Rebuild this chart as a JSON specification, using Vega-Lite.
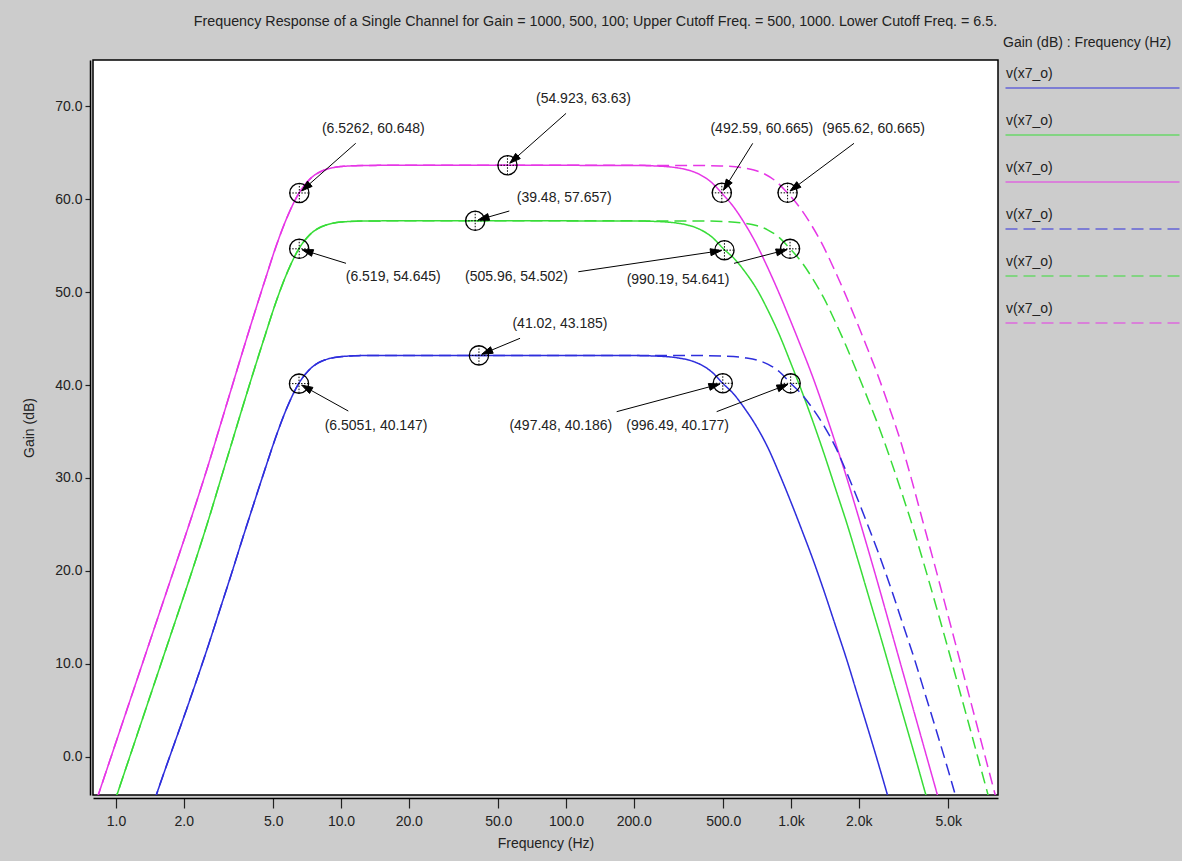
{
  "$schema": "https://vega.github.io/schema/vega-lite/v6.json",
  "width": 905,
  "height": 735,
  "autosize": {"type": "none"},
  "padding": {"left": 93, "top": 60, "right": 184, "bottom": 66},
  "background": "#cccccc",
  "title": {"text": "Frequency Response of a Single Channel for Gain = 1000, 500, 100; Upper Cutoff Freq. = 500, 1000. Lower Cutoff Freq. = 6.5.", "fontSize": 14.3, "fontWeight": "normal", "color": "#222", "anchor": "middle", "frame": "group", "dx": 50, "offset": 7},
  "config": {
    "font": "Liberation Sans",
    "view": {"fill": "white", "stroke": "black", "strokeWidth": 1.5},
    "axis": {"grid": false},
    "text": {"fontSize": 14, "fill": "#222", "font": "Liberation Sans"}
  },
  "datasets": {
    "curves": [
      {"s":"s1","f":1.156,"g":-12.2},{"s":"s1","f":1.2969,"g":-8.72},{"s":"s1","f":1.4551,"g":-5.22},{"s":"s1","f":1.6327,"g":-1.72},{"s":"s1","f":1.832,"g":1.69},{"s":"s1","f":2.0555,"g":5.09},{"s":"s1","f":2.3066,"g":8.59},{"s":"s1","f":2.5876,"g":12.19},{"s":"s1","f":2.9031,"g":15.94},{"s":"s1","f":3.2578,"g":19.69},{"s":"s1","f":3.6558,"g":23.54},{"s":"s1","f":4.101,"g":27.29},{"s":"s1","f":4.6002,"g":30.99},{"s":"s1","f":5.163,"g":34.59},{"s":"s1","f":5.7931,"g":37.74},{"s":"s1","f":6.5,"g":40.19},{"s":"s1","f":7.293,"g":41.73},{"s":"s1","f":8.183,"g":42.55},{"s":"s1","f":10.3,"g":43.08},{"s":"s1","f":12.97,"g":43.17},{"s":"s1","f":20,"g":43.185},{"s":"s1","f":50,"g":43.185},{"s":"s1","f":100,"g":43.18},
      {"s":"s1","f":198.1,"g":43.165},{"s":"s1","f":249.4,"g":43.115},{"s":"s1","f":313.9,"g":42.915},{"s":"s1","f":352.2,"g":42.675},{"s":"s1","f":395.2,"g":42.215},{"s":"s1","f":443.4,"g":41.425},{"s":"s1","f":497.5,"g":40.185},{"s":"s1","f":558.2,"g":38.985},{"s":"s1","f":626.3,"g":37.385},{"s":"s1","f":702.7,"g":35.535},{"s":"s1","f":788.5,"g":33.285},{"s":"s1","f":884.7,"g":30.535},{"s":"s1","f":992.7,"g":27.585},{"s":"s1","f":1113.8,"g":24.485},{"s":"s1","f":1249.7,"g":21.285},{"s":"s1","f":1402.1,"g":17.835},{"s":"s1","f":1573.2,"g":14.185},{"s":"s1","f":1765.2,"g":10.535},{"s":"s1","f":1980.6,"g":6.585},{"s":"s1","f":2222.2,"g":2.635},{"s":"s1","f":2493.4,"g":-1.415},{"s":"s1","f":2797.6,"g":-5.615},{"s":"s1","f":3139,"g":-9.915},

      {"s":"s2","f":0.8183,"g":-10.64},{"s":"s2","f":0.9182,"g":-7.04},{"s":"s2","f":1.0301,"g":-3.44},{"s":"s2","f":1.156,"g":0.16},{"s":"s2","f":1.2969,"g":3.76},{"s":"s2","f":1.4551,"g":7.36},{"s":"s2","f":1.6327,"g":10.96},{"s":"s2","f":1.832,"g":14.56},{"s":"s2","f":2.0555,"g":18.16},{"s":"s2","f":2.3066,"g":21.86},{"s":"s2","f":2.5876,"g":25.66},{"s":"s2","f":2.9031,"g":29.66},{"s":"s2","f":3.2578,"g":33.66},{"s":"s2","f":3.6558,"g":37.66},{"s":"s2","f":4.101,"g":41.56},{"s":"s2","f":4.6002,"g":45.36},{"s":"s2","f":5.163,"g":49.06},{"s":"s2","f":5.7931,"g":52.21},{"s":"s2","f":6.5,"g":54.66},{"s":"s2","f":7.293,"g":56.2},{"s":"s2","f":8.183,"g":57.02},{"s":"s2","f":10.3,"g":57.55},{"s":"s2","f":12.97,"g":57.64},{"s":"s2","f":20,"g":57.657},{"s":"s2","f":50,"g":57.657},{"s":"s2","f":100,"g":57.65},
      {"s":"s2","f":199.1,"g":57.64},{"s":"s2","f":250.6,"g":57.59},{"s":"s2","f":315.5,"g":57.39},{"s":"s2","f":354,"g":57.15},{"s":"s2","f":397.2,"g":56.69},{"s":"s2","f":445.7,"g":55.9},{"s":"s2","f":500,"g":54.66},{"s":"s2","f":561,"g":53.56},{"s":"s2","f":629.5,"g":52.06},{"s":"s2","f":706.3,"g":50.26},{"s":"s2","f":792.5,"g":47.96},{"s":"s2","f":889.2,"g":45.36},{"s":"s2","f":997.7,"g":42.36},{"s":"s2","f":1119.4,"g":39.26},{"s":"s2","f":1256,"g":35.96},{"s":"s2","f":1409.2,"g":32.46},{"s":"s2","f":1581.1,"g":28.76},{"s":"s2","f":1774.1,"g":25.06},{"s":"s2","f":1990.5,"g":21.06},{"s":"s2","f":2233.4,"g":16.96},{"s":"s2","f":2506,"g":12.86},{"s":"s2","f":2811.7,"g":8.66},{"s":"s2","f":3154.8,"g":4.46},{"s":"s2","f":3539.8,"g":0.26},{"s":"s2","f":3971.6,"g":-4.04},{"s":"s2","f":4456.3,"g":-8.24},

      {"s":"s3","f":0.7293,"g":-8.27},{"s":"s3","f":0.8183,"g":-4.67},{"s":"s3","f":0.9182,"g":-1.07},{"s":"s3","f":1.0301,"g":2.53},{"s":"s3","f":1.156,"g":6.13},{"s":"s3","f":1.2969,"g":9.73},{"s":"s3","f":1.4551,"g":13.33},{"s":"s3","f":1.6327,"g":16.93},{"s":"s3","f":1.832,"g":20.53},{"s":"s3","f":2.0555,"g":24.13},{"s":"s3","f":2.3066,"g":27.83},{"s":"s3","f":2.5876,"g":31.63},{"s":"s3","f":2.9031,"g":35.63},{"s":"s3","f":3.2578,"g":39.63},{"s":"s3","f":3.6558,"g":43.63},{"s":"s3","f":4.101,"g":47.53},{"s":"s3","f":4.6002,"g":51.33},{"s":"s3","f":5.163,"g":55.03},{"s":"s3","f":5.7931,"g":58.18},{"s":"s3","f":6.5,"g":60.63},{"s":"s3","f":7.293,"g":62.17},{"s":"s3","f":8.183,"g":62.99},{"s":"s3","f":10.3,"g":63.52},{"s":"s3","f":12.97,"g":63.61},{"s":"s3","f":20,"g":63.63},{"s":"s3","f":50,"g":63.63},{"s":"s3","f":100,"g":63.62},
      {"s":"s3","f":196.1,"g":63.61},{"s":"s3","f":246.9,"g":63.56},{"s":"s3","f":310.8,"g":63.36},{"s":"s3","f":348.7,"g":63.12},{"s":"s3","f":391.3,"g":62.66},{"s":"s3","f":439.1,"g":61.87},{"s":"s3","f":492.6,"g":60.63},{"s":"s3","f":552.7,"g":59.23},{"s":"s3","f":620.1,"g":57.43},{"s":"s3","f":695.8,"g":55.33},{"s":"s3","f":780.7,"g":52.83},{"s":"s3","f":876,"g":50.13},{"s":"s3","f":982.9,"g":47.23},{"s":"s3","f":1102.8,"g":44.23},{"s":"s3","f":1237.4,"g":41.13},{"s":"s3","f":1388.4,"g":37.73},{"s":"s3","f":1557.8,"g":34.13},{"s":"s3","f":1747.8,"g":30.43},{"s":"s3","f":1961.1,"g":26.43},{"s":"s3","f":2200.3,"g":22.33},{"s":"s3","f":2468.9,"g":18.13},{"s":"s3","f":2770.1,"g":13.83},{"s":"s3","f":3108.1,"g":9.53},{"s":"s3","f":3487.4,"g":5.23},{"s":"s3","f":3912.9,"g":0.93},{"s":"s3","f":4390.3,"g":-3.37},{"s":"s3","f":4926,"g":-7.67},

      {"s":"s4","f":1.156,"g":-12.2},{"s":"s4","f":1.2969,"g":-8.72},{"s":"s4","f":1.4551,"g":-5.22},{"s":"s4","f":1.6327,"g":-1.72},{"s":"s4","f":1.832,"g":1.69},{"s":"s4","f":2.0555,"g":5.09},{"s":"s4","f":2.3066,"g":8.59},{"s":"s4","f":2.5876,"g":12.19},{"s":"s4","f":2.9031,"g":15.94},{"s":"s4","f":3.2578,"g":19.69},{"s":"s4","f":3.6558,"g":23.54},{"s":"s4","f":4.101,"g":27.29},{"s":"s4","f":4.6002,"g":30.99},{"s":"s4","f":5.163,"g":34.59},{"s":"s4","f":5.7931,"g":37.74},{"s":"s4","f":6.5,"g":40.19},{"s":"s4","f":7.293,"g":41.73},{"s":"s4","f":8.183,"g":42.55},{"s":"s4","f":10.3,"g":43.08},{"s":"s4","f":12.97,"g":43.17},{"s":"s4","f":20,"g":43.185},{"s":"s4","f":50,"g":43.185},{"s":"s4","f":100,"g":43.185},{"s":"s4","f":200,"g":43.18},
      {"s":"s4","f":396.7,"g":43.165},{"s":"s4","f":499.4,"g":43.115},{"s":"s4","f":628.8,"g":42.915},{"s":"s4","f":705.4,"g":42.675},{"s":"s4","f":791.5,"g":42.215},{"s":"s4","f":888.2,"g":41.425},{"s":"s4","f":996.5,"g":40.185},{"s":"s4","f":1118.1,"g":38.985},{"s":"s4","f":1254.5,"g":37.385},{"s":"s4","f":1407.6,"g":35.535},{"s":"s4","f":1579.4,"g":33.285},{"s":"s4","f":1772.1,"g":30.535},{"s":"s4","f":1988.3,"g":27.585},{"s":"s4","f":2230.9,"g":24.485},{"s":"s4","f":2503.1,"g":21.285},{"s":"s4","f":2808.5,"g":17.835},{"s":"s4","f":3151.2,"g":14.185},{"s":"s4","f":3535.7,"g":10.535},{"s":"s4","f":3967.1,"g":6.585},{"s":"s4","f":4451.1,"g":2.635},{"s":"s4","f":4994.3,"g":-1.415},{"s":"s4","f":5603.7,"g":-5.615},{"s":"s4","f":6287.4,"g":-9.915},

      {"s":"s5","f":0.8183,"g":-10.64},{"s":"s5","f":0.9182,"g":-7.04},{"s":"s5","f":1.0301,"g":-3.44},{"s":"s5","f":1.156,"g":0.16},{"s":"s5","f":1.2969,"g":3.76},{"s":"s5","f":1.4551,"g":7.36},{"s":"s5","f":1.6327,"g":10.96},{"s":"s5","f":1.832,"g":14.56},{"s":"s5","f":2.0555,"g":18.16},{"s":"s5","f":2.3066,"g":21.86},{"s":"s5","f":2.5876,"g":25.66},{"s":"s5","f":2.9031,"g":29.66},{"s":"s5","f":3.2578,"g":33.66},{"s":"s5","f":3.6558,"g":37.66},{"s":"s5","f":4.101,"g":41.56},{"s":"s5","f":4.6002,"g":45.36},{"s":"s5","f":5.163,"g":49.06},{"s":"s5","f":5.7931,"g":52.21},{"s":"s5","f":6.5,"g":54.66},{"s":"s5","f":7.293,"g":56.2},{"s":"s5","f":8.183,"g":57.02},{"s":"s5","f":10.3,"g":57.55},{"s":"s5","f":12.97,"g":57.64},{"s":"s5","f":20,"g":57.657},{"s":"s5","f":50,"g":57.657},{"s":"s5","f":100,"g":57.657},{"s":"s5","f":200,"g":57.65},
      {"s":"s5","f":394.1,"g":57.64},{"s":"s5","f":496.2,"g":57.59},{"s":"s5","f":624.7,"g":57.39},{"s":"s5","f":700.8,"g":57.15},{"s":"s5","f":786.4,"g":56.69},{"s":"s5","f":882.4,"g":55.9},{"s":"s5","f":990,"g":54.66},{"s":"s5","f":1110.8,"g":53.26},{"s":"s5","f":1246.3,"g":51.46},{"s":"s5","f":1398.4,"g":49.36},{"s":"s5","f":1569.1,"g":46.86},{"s":"s5","f":1760.5,"g":44.16},{"s":"s5","f":1975.3,"g":41.26},{"s":"s5","f":2216.3,"g":38.26},{"s":"s5","f":2486.8,"g":35.16},{"s":"s5","f":2790.2,"g":31.76},{"s":"s5","f":3130.7,"g":28.16},{"s":"s5","f":3512.6,"g":24.41},{"s":"s5","f":3941.3,"g":20.36},{"s":"s5","f":4422.1,"g":16.16},{"s":"s5","f":4961.8,"g":11.86},{"s":"s5","f":5567.2,"g":7.46},{"s":"s5","f":6246.5,"g":3.06},{"s":"s5","f":7008.7,"g":-1.39},{"s":"s5","f":7863.9,"g":-5.84},{"s":"s5","f":8823.4,"g":-10.34},

      {"s":"s6","f":0.7293,"g":-8.27},{"s":"s6","f":0.8183,"g":-4.67},{"s":"s6","f":0.9182,"g":-1.07},{"s":"s6","f":1.0301,"g":2.53},{"s":"s6","f":1.156,"g":6.13},{"s":"s6","f":1.2969,"g":9.73},{"s":"s6","f":1.4551,"g":13.33},{"s":"s6","f":1.6327,"g":16.93},{"s":"s6","f":1.832,"g":20.53},{"s":"s6","f":2.0555,"g":24.13},{"s":"s6","f":2.3066,"g":27.83},{"s":"s6","f":2.5876,"g":31.63},{"s":"s6","f":2.9031,"g":35.63},{"s":"s6","f":3.2578,"g":39.63},{"s":"s6","f":3.6558,"g":43.63},{"s":"s6","f":4.101,"g":47.53},{"s":"s6","f":4.6002,"g":51.33},{"s":"s6","f":5.163,"g":55.03},{"s":"s6","f":5.7931,"g":58.18},{"s":"s6","f":6.5,"g":60.63},{"s":"s6","f":7.293,"g":62.17},{"s":"s6","f":8.183,"g":62.99},{"s":"s6","f":10.3,"g":63.52},{"s":"s6","f":12.97,"g":63.61},{"s":"s6","f":20,"g":63.63},{"s":"s6","f":50,"g":63.63},{"s":"s6","f":100,"g":63.63},{"s":"s6","f":200,"g":63.62},
      {"s":"s6","f":384.4,"g":63.61},{"s":"s6","f":484,"g":63.56},{"s":"s6","f":609.3,"g":63.36},{"s":"s6","f":683.6,"g":63.12},{"s":"s6","f":767,"g":62.66},{"s":"s6","f":860.6,"g":61.87},{"s":"s6","f":965.6,"g":60.63},{"s":"s6","f":1083.4,"g":59.23},{"s":"s6","f":1215.6,"g":57.43},{"s":"s6","f":1363.9,"g":55.33},{"s":"s6","f":1530.4,"g":52.83},{"s":"s6","f":1717.1,"g":50.13},{"s":"s6","f":1926.7,"g":47.23},{"s":"s6","f":2161.7,"g":44.23},{"s":"s6","f":2425.5,"g":41.13},{"s":"s6","f":2721.5,"g":37.73},{"s":"s6","f":3053.5,"g":34.13},{"s":"s6","f":3426,"g":29.93},{"s":"s6","f":3844.2,"g":25.43},{"s":"s6","f":4313.2,"g":20.98},{"s":"s6","f":4839.5,"g":16.43},{"s":"s6","f":5430,"g":11.83},{"s":"s6","f":6092.6,"g":7.23},{"s":"s6","f":6836,"g":2.63},{"s":"s6","f":7670.1,"g":-1.97},{"s":"s6","f":8606,"g":-6.57}
    ],
    "markers": [
      {"id":"M1","f":6.5262,"g":60.648,"label":"(6.5262, 60.648)"},
      {"id":"M2","f":54.923,"g":63.63,"label":"(54.923, 63.63)"},
      {"id":"M3","f":492.59,"g":60.665,"label":"(492.59, 60.665)"},
      {"id":"M4","f":965.62,"g":60.665,"label":"(965.62, 60.665)"},
      {"id":"G1","f":6.519,"g":54.645,"label":"(6.519, 54.645)"},
      {"id":"G2","f":39.48,"g":57.657,"label":"(39.48, 57.657)"},
      {"id":"G3","f":505.96,"g":54.502,"label":"(505.96, 54.502)"},
      {"id":"G4","f":990.19,"g":54.641,"label":"(990.19, 54.641)"},
      {"id":"B1","f":6.5051,"g":40.147,"label":"(6.5051, 40.147)"},
      {"id":"B2","f":41.02,"g":43.185,"label":"(41.02, 43.185)"},
      {"id":"B3","f":497.48,"g":40.186,"label":"(497.48, 40.186)"},
      {"id":"B4","f":996.49,"g":40.177,"label":"(996.49, 40.177)"}
    ]
  },
  "encoding": {
    "x": {"field": "f", "type": "quantitative",
      "scale": {"type": "log", "domain": [0.79, 8318], "nice": false},
      "axis": {"title": "Frequency (Hz)", "values": [1,2,5,10,20,50,100,200,500,1000,2000,5000],
        "labelExpr": "datum.value >= 1000 ? format(datum.value/1000, '.1f') + 'k' : format(datum.value, '.1f')",
        "offset": 3, "tickSize": 10, "tickWidth": 1.2, "tickColor": "#222", "labelPadding": 6, "titlePadding": 8,
        "domainColor": "black", "domainWidth": 1.5, "labelFontSize": 14, "titleFontSize": 14, "titleFontWeight": "normal",
        "labelColor": "#222", "titleColor": "#222", "labelFlush": false, "labelOverlap": false, "grid": false}},
    "y": {"field": "g", "type": "quantitative",
      "scale": {"domain": [-4.09, 74.95], "nice": false, "zero": false},
      "axis": {"title": "Gain (dB)", "values": [0,10,20,30,40,50,60,70], "format": ".1f",
        "offset": 3, "tickSize": 5, "tickWidth": 1.2, "tickColor": "#222", "labelPadding": 3, "titlePadding": 18,
        "domainColor": "black", "domainWidth": 1.5, "labelFontSize": 14, "titleFontSize": 14, "titleFontWeight": "normal",
        "labelColor": "#222", "titleColor": "#222", "grid": false}}
  },
  "layer": [
    {
      "data": {"name": "curves"},
      "mark": {"type": "line", "clip": true, "strokeWidth": 1.5, "interpolate": "monotone"},
      "encoding": {
        "color": {"field": "s", "type": "nominal",
          "scale": {"domain": ["s1","s2","s3","s4","s5","s6"], "range": ["#2e2edc","#38dc38","#e636e6","#2e2edc","#38dc38","#e636e6"]},
          "legend": {"title": "Gain (dB) : Frequency (Hz)", "orient": "none", "legendX": 910, "legendY": -24, "labelExpr": "'v(x7_o)'",
            "symbolType": "M-4.5,14L169.5,14", "symbolSize": 4, "symbolStrokeWidth": 1.2, "labelOffset": -11, "rowPadding": 23,
            "titlePadding": 17, "labelFontSize": 14, "titleFontSize": 14, "titleFontWeight": "normal", "labelColor": "#222", "titleColor": "#222", "padding": 0}},
        "strokeDash": {"field": "s", "type": "nominal",
          "scale": {"domain": ["s1","s2","s3","s4","s5","s6"], "range": [[1,0],[1,0],[1,0],[12,6],[12,6],[12,6]]},
          "legend": {"title": "Gain (dB) : Frequency (Hz)", "orient": "none", "legendX": 910, "legendY": -24, "labelExpr": "'v(x7_o)'",
            "symbolType": "M-4.5,14L169.5,14", "symbolSize": 4, "symbolStrokeWidth": 1.2, "labelOffset": -11, "rowPadding": 23,
            "titlePadding": 17, "labelFontSize": 14, "titleFontSize": 14, "titleFontWeight": "normal", "labelColor": "#222", "titleColor": "#222", "padding": 0}}
      }
    },
    {
      "data": {"name": "markers"},
      "mark": {"type": "point", "shape": "circle", "size": 370, "filled": false, "stroke": "black", "strokeWidth": 1.3, "opacity": 1}
    },
    {
      "data": {"name": "markers"},
      "mark": {"type": "point", "shape": "M-10,0L10,0M0,-10L0,10", "size": 4, "filled": false, "stroke": "black", "strokeWidth": 1, "strokeDash": [1.5,1.5], "opacity": 1}
    },
    {
      "data": {"name": "markers"},
      "mark": {"type": "point", "size": 4, "filled": true, "fill": "black", "stroke": "black", "strokeWidth": 1, "opacity": 1},
      "encoding": {
        "shape": {"field": "id", "type": "nominal", "legend": null,
          "scale": {"domain": ["M1","M2","M3","M4","G1","G2","G3","G4","B1","B2","B3","B4"],
            "range": [
              "M56.4,-49.7L10.5,-9.25M2.25,-1.98L12.81,-6.62L8.19,-11.88Z",
              "M58.6,-51.9L10.47,-9.28M2.24,-1.99L12.79,-6.66L8.15,-11.9Z",
              "M30.9,-49.5L7.42,-11.87M1.59,-2.54L10.39,-10.01L4.45,-13.73Z",
              "M66.4,-49.5L11.23,-8.37M2.41,-1.79L13.32,-5.56L9.14,-11.18Z",
              "M46.8,14.5L13.37,4.15M2.87,0.89L12.33,7.49L14.41,0.81Z",
              "M34.1,-9.8L13.45,-3.87M2.88,-0.83L14.42,-0.51L12.48,-7.23Z",
              "M-146.1,21.6L-13.85,2.05M-2.97,0.44L-14.36,-1.41L-13.34,5.51Z",
              "M-56,14.5L-13.55,3.51M-2.9,0.75L-14.43,0.12L-12.67,6.9Z",
              "M49.3,27.4L12.23,6.81M2.62,1.46L10.53,9.87L13.93,3.75Z",
              "M41.1,-17.1L12.93,-5.37M2.77,-1.15L14.27,-2.14L11.59,-8.6Z",
              "M-106.1,28.4L-13.53,3.63M-2.9,0.78L-14.44,0.25L-12.62,7.01Z",
              "M-74,28.3L-13.07,5M-2.8,1.07L-14.32,1.73L-11.82,8.27Z"
            ]}}
      }
    },
    {"data": {"name": "markers"}, "transform": [{"filter": "datum.id === 'M1'"}], "mark": {"type": "text", "dx": 74, "dy": -64}, "encoding": {"text": {"field": "label"}}},
    {"data": {"name": "markers"}, "transform": [{"filter": "datum.id === 'M2'"}], "mark": {"type": "text", "dx": 76, "dy": -66}, "encoding": {"text": {"field": "label"}}},
    {"data": {"name": "markers"}, "transform": [{"filter": "datum.id === 'M3'"}], "mark": {"type": "text", "dx": 40, "dy": -64}, "encoding": {"text": {"field": "label"}}},
    {"data": {"name": "markers"}, "transform": [{"filter": "datum.id === 'M4'"}], "mark": {"type": "text", "dx": 86, "dy": -64}, "encoding": {"text": {"field": "label"}}},
    {"data": {"name": "markers"}, "transform": [{"filter": "datum.id === 'G1'"}], "mark": {"type": "text", "dx": 94, "dy": 28}, "encoding": {"text": {"field": "label"}}},
    {"data": {"name": "markers"}, "transform": [{"filter": "datum.id === 'G2'"}], "mark": {"type": "text", "dx": 89, "dy": -23}, "encoding": {"text": {"field": "label"}}},
    {"data": {"name": "markers"}, "transform": [{"filter": "datum.id === 'G3'"}], "mark": {"type": "text", "dx": -208, "dy": 27}, "encoding": {"text": {"field": "label"}}},
    {"data": {"name": "markers"}, "transform": [{"filter": "datum.id === 'G4'"}], "mark": {"type": "text", "dx": -112, "dy": 31}, "encoding": {"text": {"field": "label"}}},
    {"data": {"name": "markers"}, "transform": [{"filter": "datum.id === 'B1'"}], "mark": {"type": "text", "dx": 77, "dy": 42}, "encoding": {"text": {"field": "label"}}},
    {"data": {"name": "markers"}, "transform": [{"filter": "datum.id === 'B2'"}], "mark": {"type": "text", "dx": 81, "dy": -31}, "encoding": {"text": {"field": "label"}}},
    {"data": {"name": "markers"}, "transform": [{"filter": "datum.id === 'B3'"}], "mark": {"type": "text", "dx": -162, "dy": 43}, "encoding": {"text": {"field": "label"}}},
    {"data": {"name": "markers"}, "transform": [{"filter": "datum.id === 'B4'"}], "mark": {"type": "text", "dx": -113, "dy": 43}, "encoding": {"text": {"field": "label"}}}
  ]
}
